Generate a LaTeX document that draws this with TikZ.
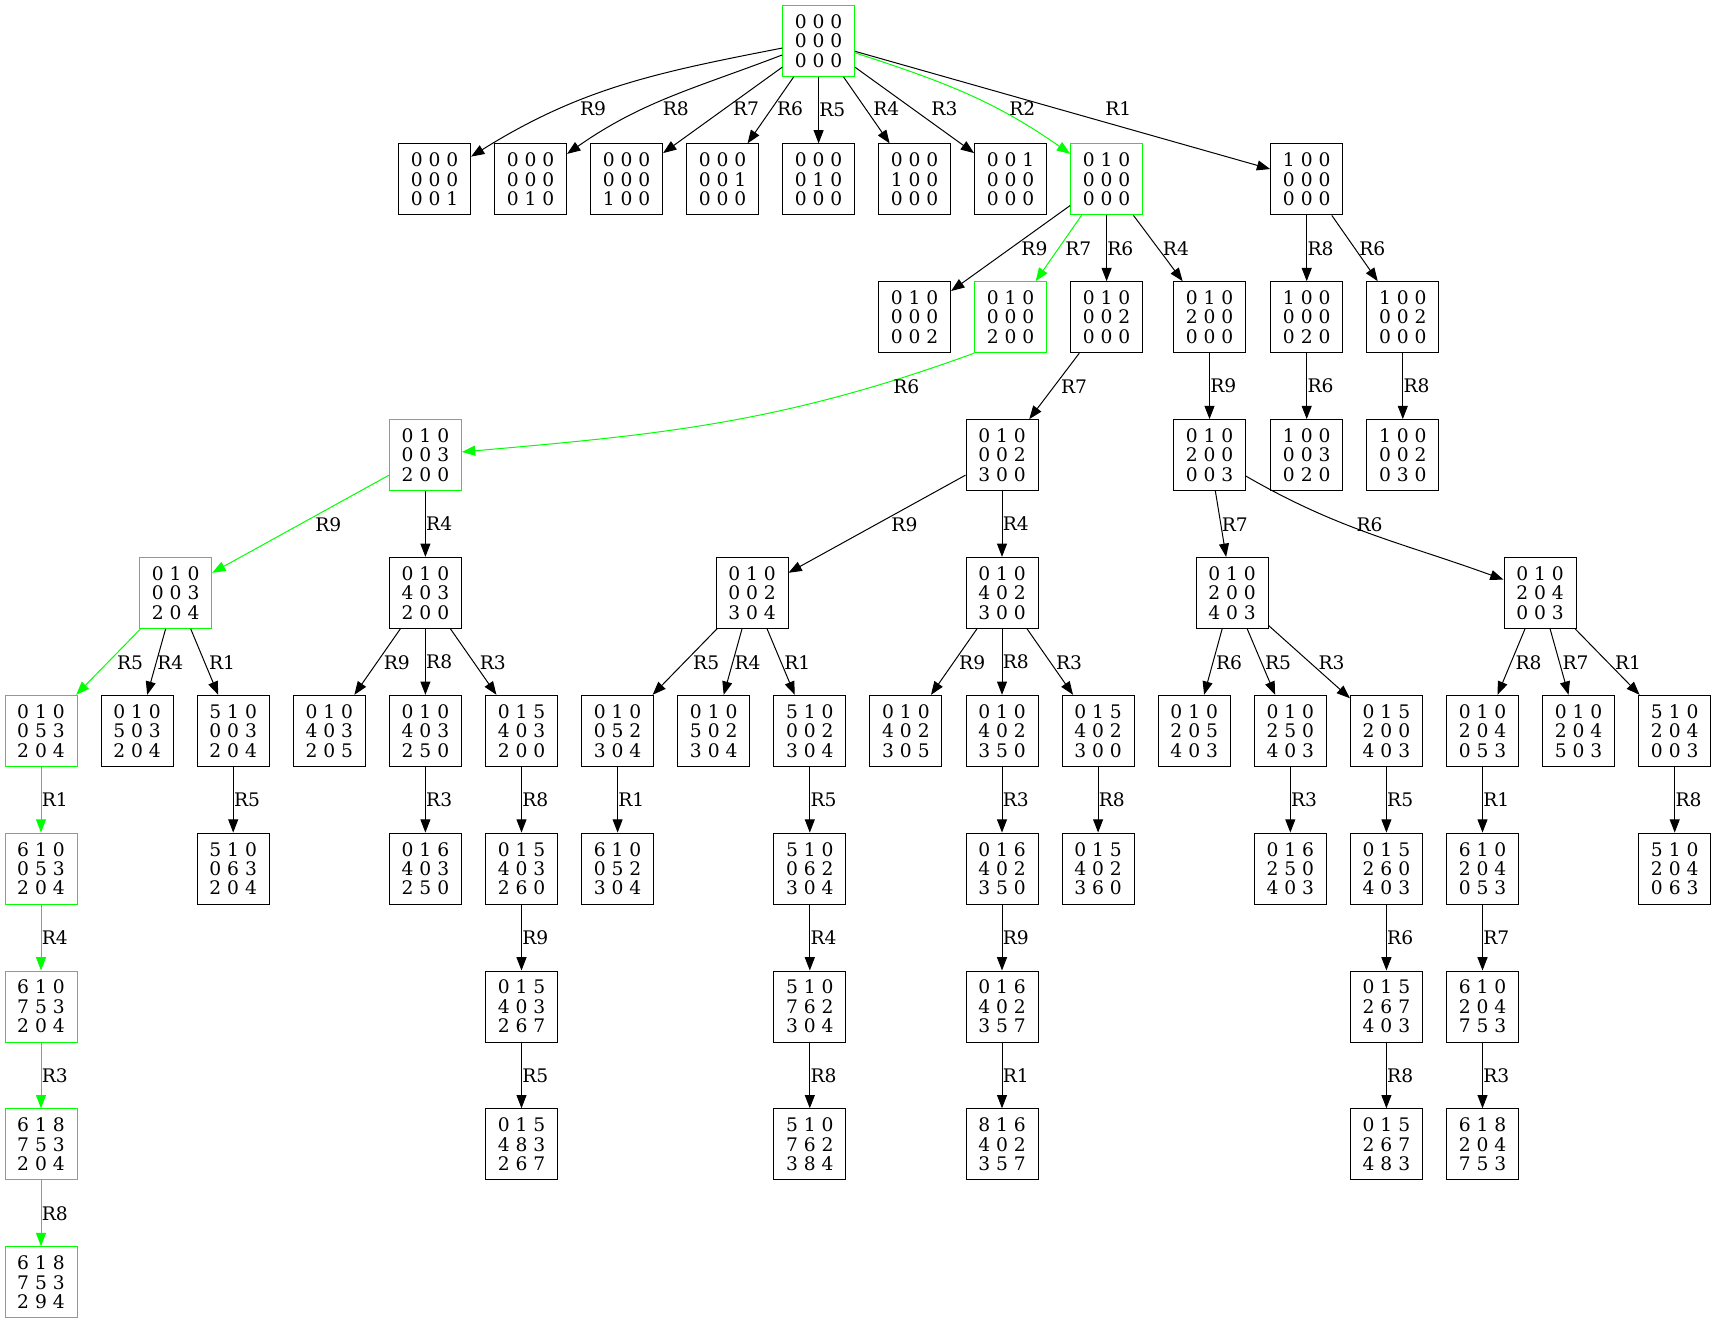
\documentclass[tikz,border=0pt]{standalone}
\usepackage{fontspec}
\setmainfont{DejaVu Serif}
\usetikzlibrary{arrows.meta}
\definecolor{pathgreen}{RGB}{0,255,0}
\newcommand{\boardfont}{\fontsize{18.67pt}{19.4pt}\selectfont}
\tikzset{
  board/.style={draw, rectangle, line width=1pt, minimum width=72pt, minimum height=71pt,
    inner sep=0pt, align=center, font=\boardfont},
  onpath/.style={board, draw=pathgreen},
  move/.style={line width=1pt, -{Triangle[length=13.3pt, width=10pt]}},
  pathmove/.style={move, draw=pathgreen},
  rulelbl/.style={inner sep=0.3pt, font=\boardfont}
}
\begin{document}
\begin{tikzpicture}[x=1pt, y=1pt]
\useasboundingbox (0,0) rectangle (1715,-1329);

% start board
\node[onpath] (s) at (818.6,-41) {0 0 0\\0 0 0\\0 0 0};

% first moves
\node[board] (s9) at (434.6,-179.4) {0 0 0\\0 0 0\\0 0 1};
\node[board] (s8) at (530.6,-179.4) {0 0 0\\0 0 0\\0 1 0};
\node[board] (s7) at (626.6,-179.4) {0 0 0\\0 0 0\\1 0 0};
\node[board] (s6) at (722.6,-179.4) {0 0 0\\0 0 1\\0 0 0};
\node[board] (s5) at (818.6,-179.4) {0 0 0\\0 1 0\\0 0 0};
\node[board] (s4) at (914.6,-179.4) {0 0 0\\1 0 0\\0 0 0};
\node[board] (s3) at (1010.6,-179.4) {0 0 1\\0 0 0\\0 0 0};
\node[onpath] (s2) at (1106.6,-179.4) {0 1 0\\0 0 0\\0 0 0};
\node[board] (s1) at (1306.7,-179.4) {1 0 0\\0 0 0\\0 0 0};

% second moves
\node[board] (s29) at (914.6,-317.2) {0 1 0\\0 0 0\\0 0 2};
\node[onpath] (s27) at (1010.6,-317.2) {0 1 0\\0 0 0\\2 0 0};
\node[board] (s26) at (1106.6,-317.2) {0 1 0\\0 0 2\\0 0 0};
\node[board] (s24) at (1209.5,-317.2) {0 1 0\\2 0 0\\0 0 0};
\node[board] (s18) at (1306.7,-317.2) {1 0 0\\0 0 0\\0 2 0};
\node[board] (s16) at (1402.8,-317.2) {1 0 0\\0 0 2\\0 0 0};

% third moves
\node[onpath] (s276) at (425.4,-455.1) {0 1 0\\0 0 3\\2 0 0};
\node[board] (s267) at (1002,-455.1) {0 1 0\\0 0 2\\3 0 0};
\node[board] (s249) at (1209.5,-455.1) {0 1 0\\2 0 0\\0 0 3};
\node[board] (s186) at (1306.7,-455.1) {1 0 0\\0 0 3\\0 2 0};
\node[board] (s168) at (1402.8,-455.1) {1 0 0\\0 0 2\\0 3 0};

% fourth moves
\node[onpath] (s2769) at (175.7,-592.9) {0 1 0\\0 0 3\\2 0 4};
\node[board] (s2764) at (425.4,-592.9) {0 1 0\\4 0 3\\2 0 0};
\node[board] (s2679) at (752,-592.9) {0 1 0\\0 0 2\\3 0 4};
\node[board] (s2674) at (1002,-592.9) {0 1 0\\4 0 2\\3 0 0};
\node[board] (s2497) at (1232,-592.9) {0 1 0\\2 0 0\\4 0 3};
\node[board] (s2496) at (1540,-592.9) {0 1 0\\2 0 4\\0 0 3};

% fifth moves
\node[onpath] (s27695) at (41,-730.8) {0 1 0\\0 5 3\\2 0 4};
\node[board] (s27694) at (137.1,-730.8) {0 1 0\\5 0 3\\2 0 4};
\node[board] (s27691) at (233.2,-730.8) {5 1 0\\0 0 3\\2 0 4};
\node[board] (s27649) at (329.3,-730.8) {0 1 0\\4 0 3\\2 0 5};
\node[board] (s27648) at (425.4,-730.8) {0 1 0\\4 0 3\\2 5 0};
\node[board] (s27643) at (521.5,-730.8) {0 1 5\\4 0 3\\2 0 0};
\node[board] (s26795) at (617.6,-730.8) {0 1 0\\0 5 2\\3 0 4};
\node[board] (s26794) at (713.7,-730.8) {0 1 0\\5 0 2\\3 0 4};
\node[board] (s26791) at (809.8,-730.8) {5 1 0\\0 0 2\\3 0 4};
\node[board] (s26749) at (905.9,-730.8) {0 1 0\\4 0 2\\3 0 5};
\node[board] (s26748) at (1002,-730.8) {0 1 0\\4 0 2\\3 5 0};
\node[board] (s26743) at (1098.1,-730.8) {0 1 5\\4 0 2\\3 0 0};
\node[board] (s24976) at (1194.2,-730.8) {0 1 0\\2 0 5\\4 0 3};
\node[board] (s24975) at (1290.3,-730.8) {0 1 0\\2 5 0\\4 0 3};
\node[board] (s24973) at (1386.4,-730.8) {0 1 5\\2 0 0\\4 0 3};
\node[board] (s24968) at (1482.5,-730.8) {0 1 0\\2 0 4\\0 5 3};
\node[board] (s24967) at (1578.6,-730.8) {0 1 0\\2 0 4\\5 0 3};
\node[board] (s24961) at (1674.7,-730.8) {5 1 0\\2 0 4\\0 0 3};

% sixth moves
\node[onpath] (s276951) at (41,-868.6) {6 1 0\\0 5 3\\2 0 4};
\node[board] (s276915) at (233.2,-868.6) {5 1 0\\0 6 3\\2 0 4};
\node[board] (s276483) at (425.4,-868.6) {0 1 6\\4 0 3\\2 5 0};
\node[board] (s276438) at (521.5,-868.6) {0 1 5\\4 0 3\\2 6 0};
\node[board] (s267951) at (617.6,-868.6) {6 1 0\\0 5 2\\3 0 4};
\node[board] (s267915) at (809.8,-868.6) {5 1 0\\0 6 2\\3 0 4};
\node[board] (s267483) at (1002,-868.6) {0 1 6\\4 0 2\\3 5 0};
\node[board] (s267438) at (1098.1,-868.6) {0 1 5\\4 0 2\\3 6 0};
\node[board] (s249753) at (1290.3,-868.6) {0 1 6\\2 5 0\\4 0 3};
\node[board] (s249735) at (1386.4,-868.6) {0 1 5\\2 6 0\\4 0 3};
\node[board] (s249681) at (1482.5,-868.6) {6 1 0\\2 0 4\\0 5 3};
\node[board] (s249618) at (1674.7,-868.6) {5 1 0\\2 0 4\\0 6 3};

% seventh moves
\node[onpath] (s2769514) at (41,-1006.5) {6 1 0\\7 5 3\\2 0 4};
\node[board] (s2764389) at (521.5,-1006.5) {0 1 5\\4 0 3\\2 6 7};
\node[board] (s2679154) at (809.8,-1006.5) {5 1 0\\7 6 2\\3 0 4};
\node[board] (s2674839) at (1002,-1006.5) {0 1 6\\4 0 2\\3 5 7};
\node[board] (s2497356) at (1386.4,-1006.5) {0 1 5\\2 6 7\\4 0 3};
\node[board] (s2496817) at (1482.5,-1006.5) {6 1 0\\2 0 4\\7 5 3};

% eighth moves
\node[onpath] (s27695143) at (41,-1144.3) {6 1 8\\7 5 3\\2 0 4};
\node[board] (s27643895) at (521.5,-1144.3) {0 1 5\\4 8 3\\2 6 7};
\node[board] (s26791548) at (809.8,-1144.3) {5 1 0\\7 6 2\\3 8 4};
\node[board] (s26748391) at (1002,-1144.3) {8 1 6\\4 0 2\\3 5 7};
\node[board] (s24973568) at (1386.4,-1144.3) {0 1 5\\2 6 7\\4 8 3};
\node[board] (s24968173) at (1482.5,-1144.3) {6 1 8\\2 0 4\\7 5 3};

% final board
\node[onpath] (s276951438) at (41,-1282.2) {6 1 8\\7 5 3\\2 9 4};

% moves out of the start
\draw[move] (s) to[out=191, in=32] (s9) node[rulelbl] (rs9) at (593,-109) {R9};
\draw[move] (s) to[out=201, in=35] (s8) node[rulelbl] (rs8) at (675.8,-109) {R8};
\draw[move] (s) -- (s7) node[rulelbl] (rs7) at (746,-109) {R7};
\draw[move] (s) -- (s6) node[rulelbl] (rs6) at (790,-109) {R6};
\draw[move] (s) -- (s5) node[rulelbl, midway, right] (rs5) {R5};
\draw[move] (s) -- (s4) node[rulelbl] (rs4) at (886.3,-109) {R4};
\draw[move] (s) -- (s3) node[rulelbl] (rs3) at (944.4,-109) {R3};
\draw[pathmove] (s) to[out=-18, in=145] (s2) node[rulelbl] (rs2) at (1022.3,-109) {R2};
\draw[move] (s) -- (s1) node[rulelbl] (rs1) at (1118.3,-109) {R1};

% second level
\draw[move] (s2) -- (s29) node[rulelbl] (rs29) at (1034.4,-248.5) {R9};
\draw[pathmove] (s2) -- (s27) node[rulelbl] (rs27) at (1078.3,-248.5) {R7};
\draw[move] (s2) -- (s26) node[rulelbl, midway, right] (rs26) {R6};
\draw[move] (s2) -- (s24) node[rulelbl] (rs24) at (1175.9,-248.5) {R4};
\draw[move] (s1) -- (s18) node[rulelbl, midway, right] (rs18) {R8};
\draw[move] (s1) -- (s16) node[rulelbl] (rs16) at (1372.3,-248.5) {R6};

% third level
\draw[pathmove] (s27.south west) to[out=200, in=5] (s276) node[rulelbl] (rs276) at (906.3,-386.5) {R6};
\draw[move] (s26) -- (s267) node[rulelbl] (rs267) at (1074,-386.5) {R7};
\draw[move] (s24) -- (s249) node[rulelbl, midway, right] (rs249) {R9};
\draw[move] (s18) -- (s186) node[rulelbl, midway, right] (rs186) {R6};
\draw[move] (s16) -- (s168) node[rulelbl, midway, right] (rs168) {R8};

% fourth level
\draw[pathmove] (s276) -- (s2769) node[rulelbl] (rs2769) at (328.4,-524.5) {R9};
\draw[move] (s276) -- (s2764) node[rulelbl, midway, right] (rs2764) {R4};
\draw[move] (s267) -- (s2679) node[rulelbl] (rs2679) at (904.4,-524.5) {R9};
\draw[move] (s267) -- (s2674) node[rulelbl, midway, right] (rs2674) {R4};
\draw[move] (s249) -- (s2497) node[rulelbl] (rs2497) at (1234.8,-524.5) {R7};
\draw[move] (s249) to[out=-30, in=160] (s2496) node[rulelbl] (rs2496) at (1369.5,-524.5) {R6};

% fifth level
\draw[pathmove] (s2769) -- (s27695) node[rulelbl] (rs27695) at (130.1,-662.5) {R5};
\draw[move] (s2769) -- (s27694) node[rulelbl] (rs27694) at (170.3,-662.5) {R4};
\draw[move] (s2769) -- (s27691) node[rulelbl] (rs27691) at (222,-662.5) {R1};
\draw[move] (s2764) -- (s27649) node[rulelbl] (rs27649) at (396.9,-662.5) {R9};
\draw[move] (s2764) -- (s27648) node[rulelbl, midway, right] (rs27648) {R8};
\draw[move] (s2764) -- (s27643) node[rulelbl] (rs27643) at (492.9,-662.5) {R3};
\draw[move] (s2679) -- (s26795) node[rulelbl] (rs26795) at (706.2,-662.5) {R5};
\draw[move] (s2679) -- (s26794) node[rulelbl] (rs26794) at (747.5,-662.5) {R4};
\draw[move] (s2679) -- (s26791) node[rulelbl] (rs26791) at (797.3,-662.5) {R1};
\draw[move] (s2674) -- (s26749) node[rulelbl] (rs26749) at (972.2,-662.5) {R9};
\draw[move] (s2674) -- (s26748) node[rulelbl, midway, right] (rs26748) {R8};
\draw[move] (s2674) -- (s26743) node[rulelbl] (rs26743) at (1069,-662.5) {R3};
\draw[move] (s2497) -- (s24976) node[rulelbl] (rs24976) at (1229.1,-662.5) {R6};
\draw[move] (s2497) -- (s24975) node[rulelbl] (rs24975) at (1278,-662.5) {R5};
\draw[move] (s2497) -- (s24973) node[rulelbl] (rs24973) at (1331.6,-662.5) {R3};
\draw[move] (s2496) -- (s24968) node[rulelbl] (rs24968) at (1528.5,-662.5) {R8};
\draw[move] (s2496) -- (s24967) node[rulelbl] (rs24967) at (1575.5,-662.5) {R7};
\draw[move] (s2496) -- (s24961) node[rulelbl] (rs24961) at (1628,-662.5) {R1};

% sixth level
\draw[pathmove] (s27695) -- (s276951) node[rulelbl, midway, right] (rs276951) {R1};
\draw[move] (s27691) -- (s276915) node[rulelbl, midway, right] (rs276915) {R5};
\draw[move] (s27648) -- (s276483) node[rulelbl, midway, right] (rs276483) {R3};
\draw[move] (s27643) -- (s276438) node[rulelbl, midway, right] (rs276438) {R8};
\draw[move] (s26795) -- (s267951) node[rulelbl, midway, right] (rs267951) {R1};
\draw[move] (s26791) -- (s267915) node[rulelbl, midway, right] (rs267915) {R5};
\draw[move] (s26748) -- (s267483) node[rulelbl, midway, right] (rs267483) {R3};
\draw[move] (s26743) -- (s267438) node[rulelbl, midway, right] (rs267438) {R8};
\draw[move] (s24975) -- (s249753) node[rulelbl, midway, right] (rs249753) {R3};
\draw[move] (s24973) -- (s249735) node[rulelbl, midway, right] (rs249735) {R5};
\draw[move] (s24968) -- (s249681) node[rulelbl, midway, right] (rs249681) {R1};
\draw[move] (s24961) -- (s249618) node[rulelbl, midway, right] (rs249618) {R8};

% seventh level
\draw[pathmove] (s276951) -- (s2769514) node[rulelbl, midway, right] (rs2769514) {R4};
\draw[move] (s276438) -- (s2764389) node[rulelbl, midway, right] (rs2764389) {R9};
\draw[move] (s267915) -- (s2679154) node[rulelbl, midway, right] (rs2679154) {R4};
\draw[move] (s267483) -- (s2674839) node[rulelbl, midway, right] (rs2674839) {R9};
\draw[move] (s249735) -- (s2497356) node[rulelbl, midway, right] (rs2497356) {R6};
\draw[move] (s249681) -- (s2496817) node[rulelbl, midway, right] (rs2496817) {R7};

% eighth level
\draw[pathmove] (s2769514) -- (s27695143) node[rulelbl, midway, right] (rs27695143) {R3};
\draw[move] (s2764389) -- (s27643895) node[rulelbl, midway, right] (rs27643895) {R5};
\draw[move] (s2679154) -- (s26791548) node[rulelbl, midway, right] (rs26791548) {R8};
\draw[move] (s2674839) -- (s26748391) node[rulelbl, midway, right] (rs26748391) {R1};
\draw[move] (s2497356) -- (s24973568) node[rulelbl, midway, right] (rs24973568) {R8};
\draw[move] (s2496817) -- (s24968173) node[rulelbl, midway, right] (rs24968173) {R3};

% last step
\draw[pathmove] (s27695143) -- (s276951438) node[rulelbl, midway, right] (rs276951438) {R8};

\end{tikzpicture}
\end{document}
